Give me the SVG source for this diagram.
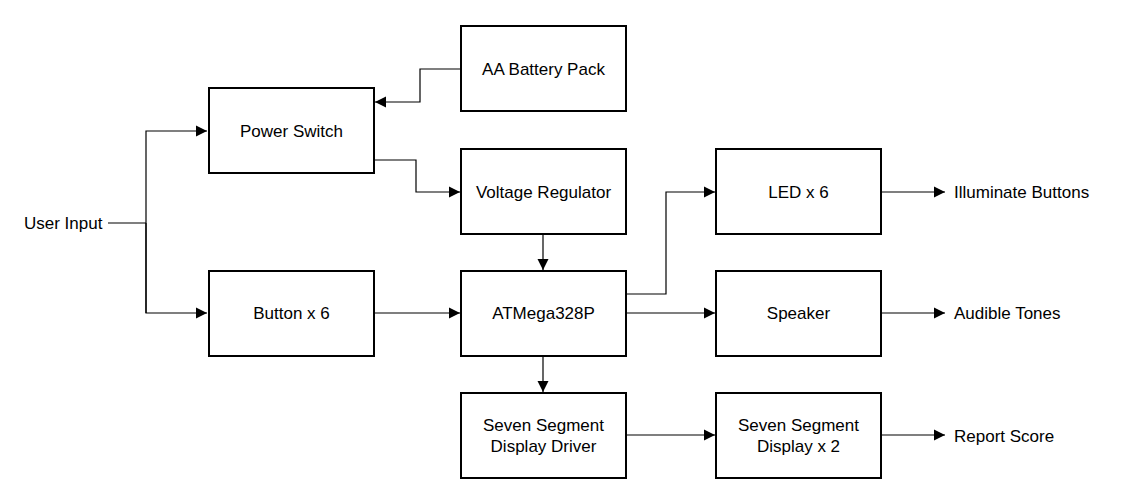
<svg xmlns="http://www.w3.org/2000/svg" width="1129" height="504" viewBox="0 0 1129 504">
<style>
.box{fill:#fff;stroke:#000;stroke-width:2}
.lbl{font-family:"Liberation Sans",Arial,sans-serif;font-size:17px;fill:#000;text-anchor:middle;dominant-baseline:central}
.out{font-family:"Liberation Sans",Arial,sans-serif;font-size:17px;fill:#000;dominant-baseline:central}
.ln{fill:none;stroke:#000;stroke-width:1.2}
</style>
<defs>
<marker id="ah" markerWidth="12" markerHeight="12" viewBox="0 0 12 12" refX="11" refY="6" orient="auto" markerUnits="userSpaceOnUse">
<path d="M0,0.5 L11,6 L0,11.5 z" fill="#000"/>
</marker>
</defs>
<rect width="1129" height="504" fill="#fff"/>
<g id="connectors">
<path class="ln" d="M460,69 H420 V102 H375" marker-end="url(#ah)"/>
<path class="ln" d="M374,160 H416 V192 H460" marker-end="url(#ah)"/>
<path class="ln" d="M108,223 H146"/>
<path class="ln" d="M146,313 V131 H207" marker-end="url(#ah)"/>
<path class="ln" d="M146,223 V313 H207" marker-end="url(#ah)"/>
<path class="ln" d="M374,313 H460" marker-end="url(#ah)"/>
<path class="ln" d="M543,234 V270" marker-end="url(#ah)"/>
<path class="ln" d="M626,294 H666 V192 H715" marker-end="url(#ah)"/>
<path class="ln" d="M626,313 H715" marker-end="url(#ah)"/>
<path class="ln" d="M543,356 V392" marker-end="url(#ah)"/>
<path class="ln" d="M626,435 H715" marker-end="url(#ah)"/>
<path class="ln" d="M881,192 H945" marker-end="url(#ah)"/>
<path class="ln" d="M881,313 H945" marker-end="url(#ah)"/>
<path class="ln" d="M881,435 H945" marker-end="url(#ah)"/>
</g>
<g id="user-input"><text class="out" x="24" y="223">User Input</text></g>
<g id="battery"><rect class="box" x="461" y="26" width="165" height="85"/><text class="lbl" x="543.5" y="69">AA Battery Pack</text></g>
<g id="power-switch"><rect class="box" x="209" y="88" width="165" height="85"/><text class="lbl" x="291.5" y="131">Power Switch</text></g>
<g id="voltage-regulator"><rect class="box" x="461" y="149" width="165" height="85"/><text class="lbl" x="543.5" y="192">Voltage Regulator</text></g>
<g id="led"><rect class="box" x="716" y="149" width="165" height="85"/><text class="lbl" x="798.5" y="192">LED x 6</text></g>
<g id="button"><rect class="box" x="209" y="271" width="165" height="85"/><text class="lbl" x="291.5" y="313">Button x 6</text></g>
<g id="atmega"><rect class="box" x="461" y="271" width="165" height="85"/><text class="lbl" x="543.5" y="313">ATMega328P</text></g>
<g id="speaker"><rect class="box" x="716" y="271" width="165" height="85"/><text class="lbl" x="798.5" y="313">Speaker</text></g>
<g id="driver"><rect class="box" x="461" y="393" width="165" height="85"/><text class="lbl" x="543.5" y="425">Seven Segment</text><text class="lbl" x="543.5" y="446">Display Driver</text></g>
<g id="display"><rect class="box" x="716" y="393" width="165" height="85"/><text class="lbl" x="798.5" y="425">Seven Segment</text><text class="lbl" x="798.5" y="446">Display x 2</text></g>
<g id="illuminate"><text class="out" x="954" y="192">Illuminate Buttons</text></g>
<g id="tones"><text class="out" x="954" y="313">Audible Tones</text></g>
<g id="score"><text class="out" x="954" y="436">Report Score</text></g>
</svg>
